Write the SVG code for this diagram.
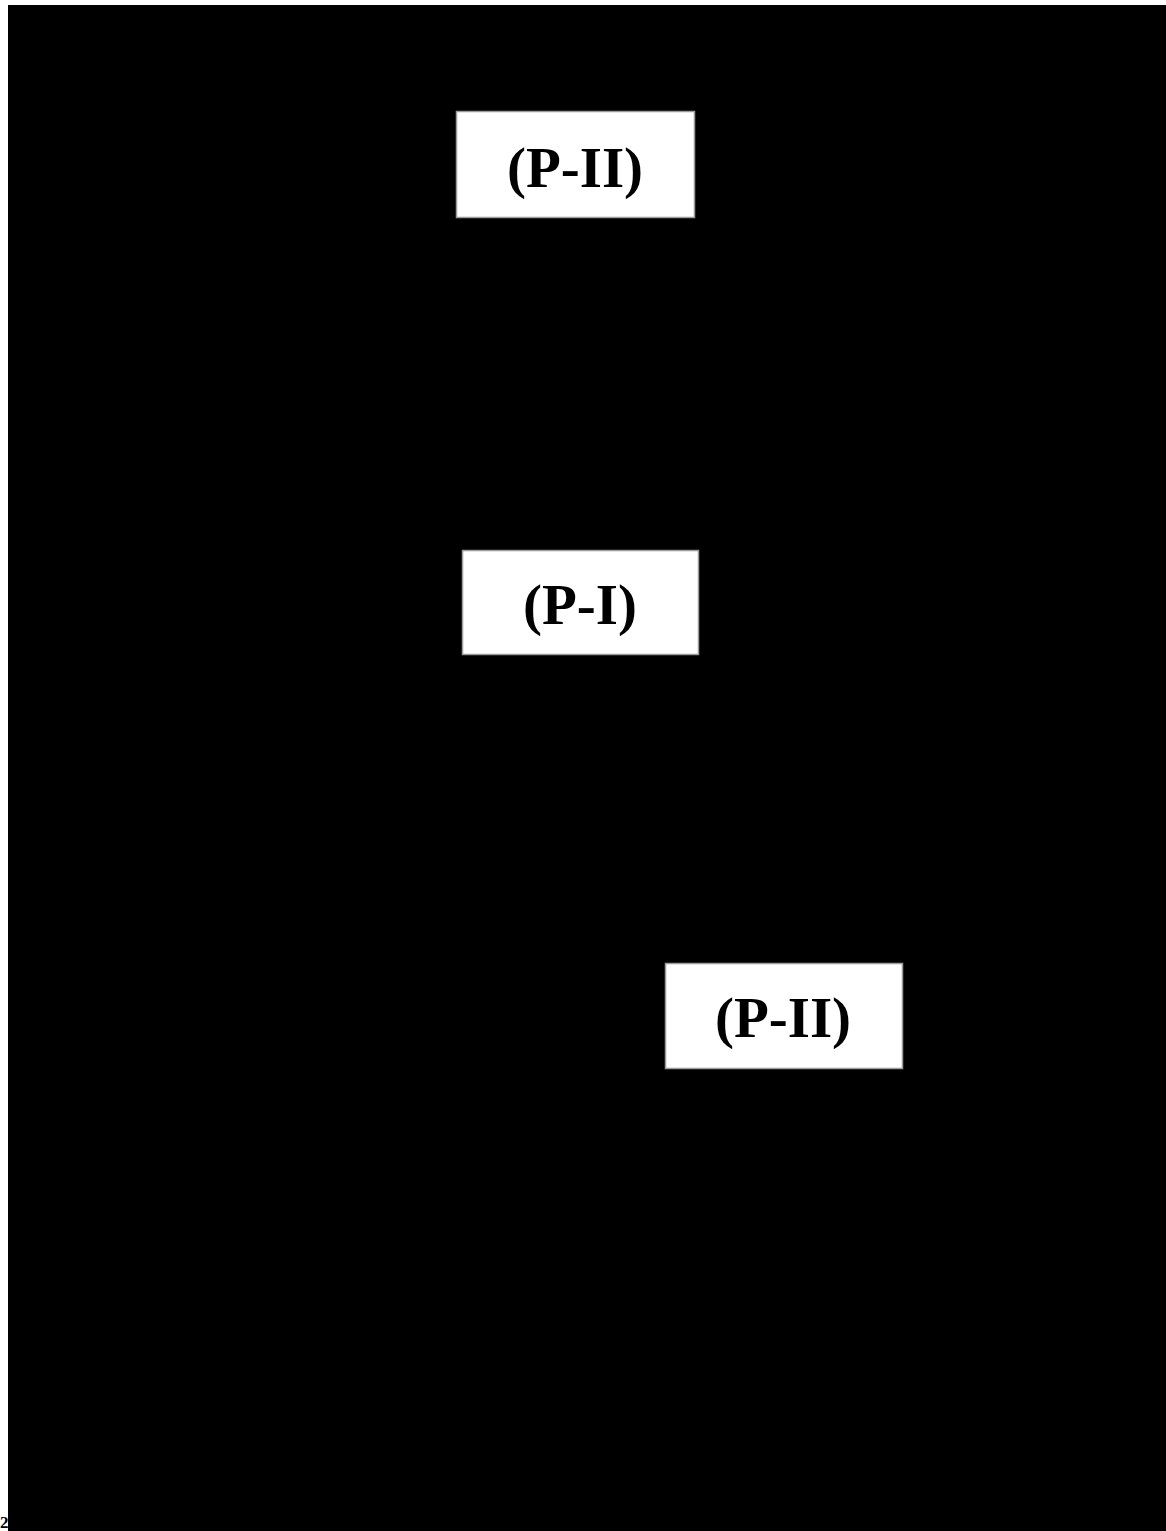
<svg xmlns="http://www.w3.org/2000/svg" width="1166" height="1531" viewBox="0 0 1166 1531">
  <style>
    .box { fill: #ffffff; stroke: #9a9a9a; stroke-width: 1.5; }
    .lbl { font-family: "Liberation Serif", "Times New Roman", serif; font-weight: bold; font-size: 57px; fill: #000000; text-anchor: middle; }
    .pg { font-family: "Liberation Serif", "Times New Roman", serif; font-weight: bold; font-size: 17px; fill: #000000; }
  </style>
  <rect x="0" y="0" width="1166" height="1531" fill="#ffffff"/>
  <text class="pg" x="0" y="1528">2</text>
  <rect x="8" y="5" width="1158" height="1526" fill="#000000"/>
  <g id="connectors"></g>
  <g id="node-p2-top">
    <rect class="box" x="456.5" y="111.5" width="238" height="106"/>
    <text class="lbl" x="575" y="187">(P-II)</text>
  </g>
  <g id="node-p1">
    <rect class="box" x="462.5" y="550.5" width="236" height="104"/>
    <text class="lbl" x="580" y="624">(P-I)</text>
  </g>
  <g id="node-p2-bottom">
    <rect class="box" x="665.5" y="963.5" width="237" height="105"/>
    <text class="lbl" x="783" y="1037">(P-II)</text>
  </g>
</svg>
